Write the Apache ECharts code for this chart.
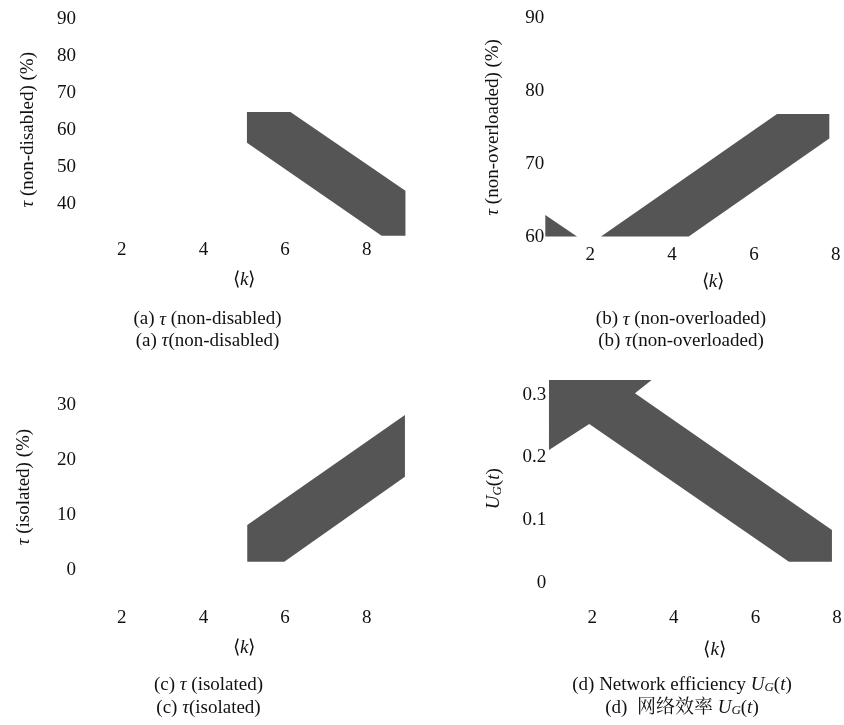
<!DOCTYPE html>
<html>
<head>
<meta charset="utf-8">
<script src="https://cdn.jsdelivr.net/npm/echarts@6/dist/echarts.min.js"></script>
<style>
html,body{margin:0;padding:0;background:#fff;}
#chart{width:844px;height:725px;}
</style>
</head>
<body>
<div id="chart"></div>
<script>
// ---- tick labels ----
const xTicks = [2, 4, 6, 8];
const yTicksA = [40, 50, 60, 70, 80, 90];
const yTicksB = [60, 70, 80, 90];
const yTicksC = [0, 10, 20, 30];
const yTicksD = [0, 0.1, 0.2, 0.3];

// ---- band outlines (x = <k>, y = value) ----
const bandAK = [5.067, 6.133, 8.949, 8.949, 8.366, 5.067];
const bandAV = [64.81, 64.81, 43.54, 31.38, 31.38, 56.51];

const bandB1K = [0.905, 0.905, 1.679];
const bandB1V = [62.98, 60, 60];
const bandB2K = [2.265, 6.563, 7.840, 7.840, 4.407];
const bandB2V = [60, 76.85, 76.85, 73.46, 60];

const bandCK = [5.075, 8.937, 8.937, 5.981, 5.075];
const bandCV = [8.11, 28.11, 16.89, 1.44, 1.44];

const bandDK = [0.943, 3.458, 3.049, 7.874, 7.874, 6.821, 1.930, 0.943];
const bandDV = [0.3233, 0.3233, 0.3021, 0.0843, 0.0338, 0.0338, 0.2532, 0.2117];

// ---- text ----
const FONT = '"Liberation Serif", "Times New Roman", "Noto Serif CJK SC", "Noto Sans CJK SC", serif';
const FS = 19;
const INK = '#111';
const BAND = '#555555';

const rich = {
  i: { fontStyle: 'italic', fontFamily: FONT, fontSize: FS, color: INK },
  sub: { fontStyle: 'italic', fontFamily: FONT, fontSize: 13, color: INK, verticalAlign: 'bottom', lineHeight: 13, padding: [8, 0, 0, 0] }
};

const chart = echarts.init(document.getElementById('chart'), null, { renderer: 'canvas' });

const grids = [
  { left: 80.9, top: 18.8, width: 326.6, height: 222 },
  { left: 549.2, top: 18.2, width: 327.6, height: 218.4 },
  { left: 80.9, top: 349.6, width: 326.6, height: 275 },
  { left: 551.3, top: 331.8, width: 326.6, height: 313.9 }
].map(g => Object.assign({ containLabel: false, outerBoundsMode: 'none' }, g));

function inList(list, v) { return list.some(t => Math.abs(t - v) < 1e-6); }

const xMargins = [0, 8.5, -15.8, -36.9];
const xNameGaps = [29.5, 35.5, 13.9, -5.2];
const xAxes = [0, 1, 2, 3].map(i => ({
  type: 'value', gridIndex: i, min: 1, max: 9, interval: 1,
  axisLine: { show: false }, axisTick: { show: false }, splitLine: { show: false },
  axisLabel: {
    margin: xMargins[i], fontFamily: FONT, fontSize: FS, color: INK,
    formatter: v => inList(xTicks, v) ? String(v) : ''
  },
  name: '⟨{i|k}⟩', nameLocation: 'middle', nameGap: xNameGaps[i],
  nameTextStyle: { fontFamily: FONT, fontSize: FS, color: INK, rich: rich }
}));

const yDefs = [
  { min: 30, max: 90, interval: 10, ticks: yTicksA, name: '{i|τ} (non-disabled) (%)', gap: 43.5 },
  { min: 60, max: 90, interval: 10, ticks: yTicksB, name: '{i|τ} (non-overloaded) (%)', gap: 46.5 },
  { min: -10, max: 40, interval: 10, ticks: yTicksC, name: '{i|τ} (isolated) (%)', gap: 47.5 },
  { min: -0.1, max: 0.4, interval: 0.1, ticks: yTicksD, name: '{i|U}{sub|G}({i|t})', gap: 47.5 }
];
const yAxes = yDefs.map((d, i) => ({
  type: 'value', gridIndex: i, min: d.min, max: d.max, interval: d.interval,
  axisLine: { show: false }, axisTick: { show: false }, splitLine: { show: false },
  axisLabel: {
    margin: 5, fontFamily: FONT, fontSize: FS, color: INK,
    formatter: v => inList(d.ticks, v) ? String(+v.toFixed(4)) : ''
  },
  name: d.name, nameLocation: 'middle', nameRotate: 90, nameGap: d.gap,
  nameTextStyle: { fontFamily: FONT, fontSize: FS, color: INK, rich: rich }
}));

function bandSeries(i, polys) {
  return {
    type: 'custom', xAxisIndex: i, yAxisIndex: i, clip: false, silent: true,
    data: polys[0][0].map((k, j) => [k, polys[0][1][j]]),
    encode: { x: 0, y: 1 },
    renderItem: function (params, api) {
      if (params.dataIndex !== 0) return null;
      return {
        type: 'group',
        children: polys.map(p => ({
          type: 'polygon',
          shape: { points: p[0].map((k, j) => api.coord([k, p[1][j]])) },
          style: { fill: BAND, stroke: null }
        }))
      };
    }
  };
}

const series = [
  bandSeries(0, [[bandAK, bandAV]]),
  bandSeries(1, [[bandB1K, bandB1V], [bandB2K, bandB2V]]),
  bandSeries(2, [[bandCK, bandCV]]),
  bandSeries(3, [[bandDK, bandDV]])
];

const captions = [
  { x: 207.5, y: 319.5, t: '(a) {i|τ} (non-disabled)' },
  { x: 207.5, y: 341, t: '(a) {i|τ}(non-disabled)' },
  { x: 681, y: 319.5, t: '(b) {i|τ} (non-overloaded)' },
  { x: 681, y: 341, t: '(b) {i|τ}(non-overloaded)' },
  { x: 208.5, y: 685, t: '(c) {i|τ} (isolated)' },
  { x: 208.5, y: 708, t: '(c) {i|τ}(isolated)' },
  { x: 682, y: 685, t: '(d) Network efficiency {i|U}{sub|G}({i|t})' },
  { x: 682, y: 708, t: '(d)  网络效率 {i|U}{sub|G}({i|t})' }
];
const graphic = captions.map(c => ({
  type: 'text', x: c.x, y: c.y, silent: true,
  style: {
    text: c.t, fontFamily: FONT, fontSize: FS, fill: INK,
    align: 'center', verticalAlign: 'middle', rich: rich
  }
}));

chart.setOption({
  animation: false,
  backgroundColor: '#ffffff',
  grid: grids,
  xAxis: xAxes,
  yAxis: yAxes,
  series: series,
  graphic: graphic
});
</script>
</body>
</html>
